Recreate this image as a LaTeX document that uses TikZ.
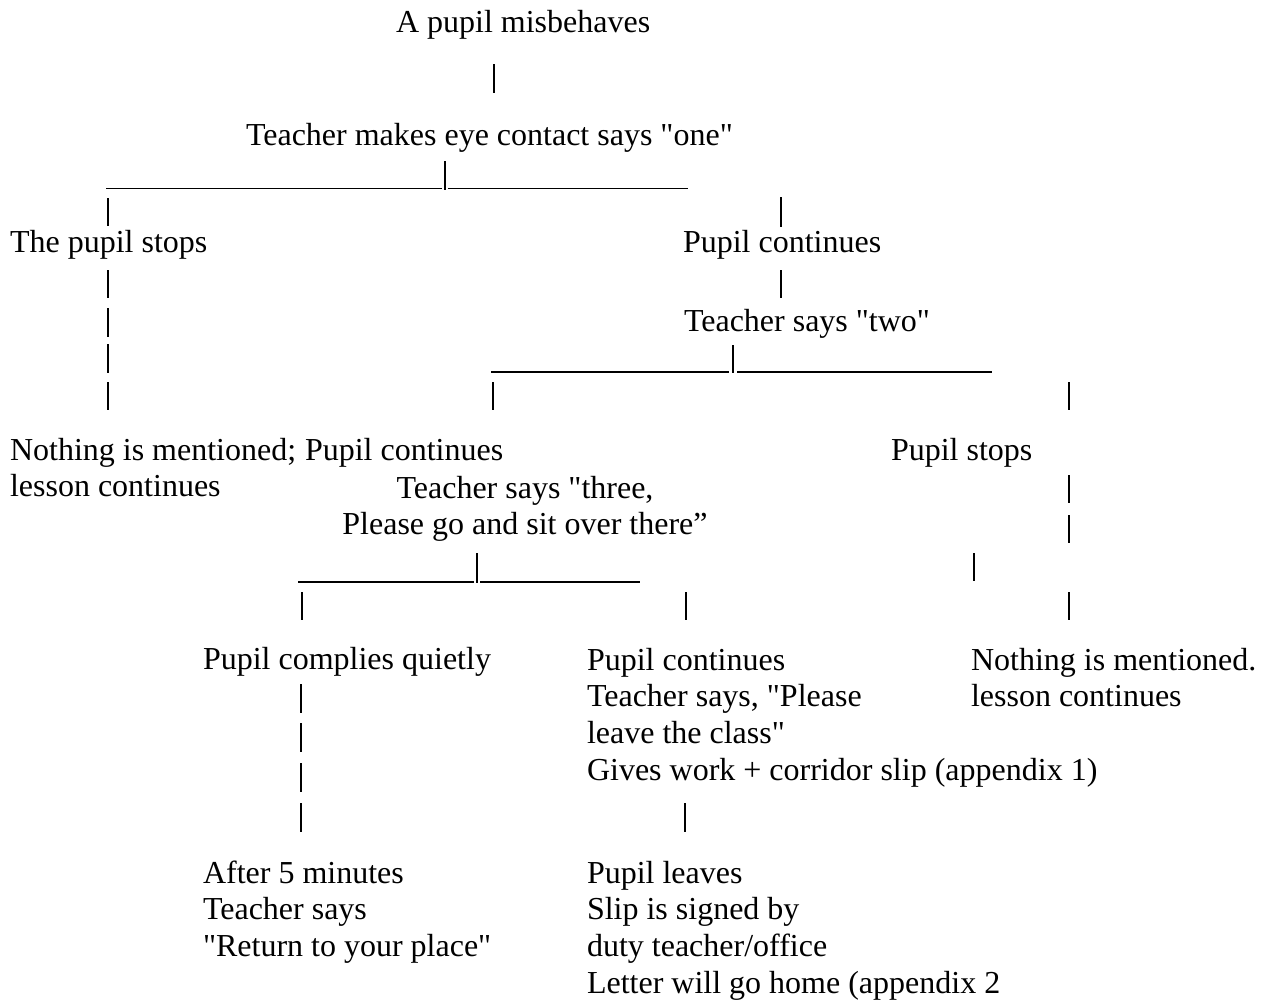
\documentclass[tikz,border=0pt]{standalone}
\usepackage{fontspec}
\setmainfont{Liberation Serif}[Ligatures=TeXOff]
\newcommand\mybar[4]{%
  \coordinate (#1t) at (#2,#3);
  \coordinate (#1b) at (#2,#4);
  \draw[barline] (#1t) -- (#1b);}
\newcommand\myrule[4]{%
  \coordinate (#1l) at (#2,#4);
  \coordinate (#1r) at (#3,#4);
  \draw[ruleline] (#1l) -- (#1r);}
\tikzset{
  txt/.style={inner sep=0pt, outer sep=0pt, anchor=base west, font=\fontsize{32}{36.8}\selectfont},
  blk/.style={txt, anchor=north west, align=left},
  cblk/.style={txt, anchor=north, align=center},
  barline/.style={line width=1.3pt, black},
  ruleline/.style={line width=1.5pt, black},
}
\begin{document}
\begin{tikzpicture}[x=1pt,y=-1pt]
\fill[white] (0,0) rectangle (1268,1005);
\useasboundingbox (0,0) rectangle (1268,1005);

% texts
\node[txt] (misb) at (396,32) {A pupil misbehaves};
\node[txt] (one) at (246,145) {Teacher makes eye contact says "one"};
\node[txt] (stops1) at (10,252) {The pupil stops};
\node[txt] (cont1) at (683,252) {Pupil continues};
\node[txt] (two) at (684,331) {Teacher says "two"};
\node[blk] (nothing1) at (10,460-25.76) {\strut Nothing is mentioned;\\lesson continues};
\node[txt] (cont2) at (305,460) {Pupil continues};
\node[txt] (stops2) at (891,460) {Pupil stops};
\node[cblk] (three) at (525,498-25.76) {\strut Teacher says "three,\\Please go and sit over there”};
\node[txt] (complies) at (203,669) {Pupil complies quietly};
\node[blk] (cont3) at (587,670-25.76) {\strut Pupil continues\\Teacher says, "Please\\leave the class"\\Gives work + corridor slip (appendix 1)};
\node[blk] (nothing2) at (971,670-25.76) {\strut Nothing is mentioned.\\lesson continues};
\node[blk] (after) at (203,883-25.76) {\strut After 5 minutes\\Teacher says\\"Return to your place"};
\node[blk] (leaves) at (587,883-25.76) {\strut Pupil leaves\\Slip is signed by\\duty teacher/office\\Letter will go home (appendix 2};

% connector strokes (typed bars and underscores)
\mybar{b1}{494}{64}{93}
\mybar{b2}{445}{161}{190}
\myrule{r1a}{106}{442}{188.5}
\myrule{r1b}{448}{688}{188.5}
\mybar{b3}{108}{198}{226}
\mybar{b4}{781}{197}{227}
\mybar{b5}{108}{270}{298}
\mybar{b6}{781}{270}{298}
\mybar{b7}{108}{308}{337}
\mybar{b8}{108}{344}{373}
\mybar{b9}{108}{382}{410}
\mybar{b10}{733}{345}{373}
\myrule{r2a}{491}{729}{372}
\myrule{r2b}{737}{992}{372}
\mybar{b11}{493}{382}{410}
\mybar{b12}{1069}{382}{410}
\mybar{b13}{1069}{475}{503}
\mybar{b14}{1069}{515}{543}
\mybar{b15}{974}{553}{581}
\mybar{b16}{477}{553}{583}
\myrule{r3a}{298}{474}{582}
\myrule{r3b}{480}{640}{582}
\mybar{b17}{302}{592}{620}
\mybar{b18}{686}{592}{620}
\mybar{b19}{1069}{592}{620}
\mybar{b20}{301}{684}{713}
\mybar{b21}{301}{723}{752}
\mybar{b22}{301}{763}{792}
\mybar{b23}{301}{803}{832}
\mybar{b24}{685}{803}{832}
\end{tikzpicture}
\end{document}
